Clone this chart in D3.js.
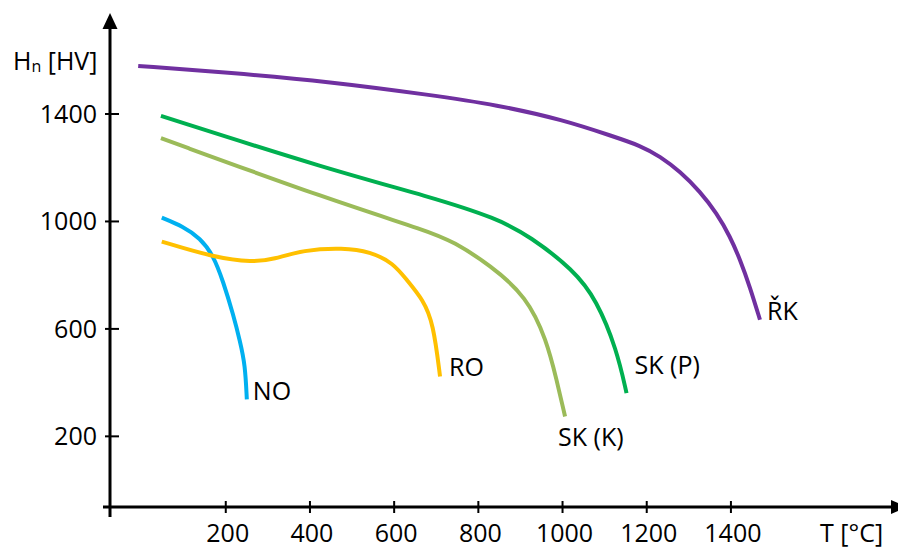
<!doctype html>
<html lang="cs">
<head>
  <meta charset="utf-8">
  <title>Hardness vs temperature</title>
  <style>
    body { margin: 0; background: #fff; font-family: 'Open Sans', sans-serif; }
    svg text { font-size: 25px; fill: #000; }
  </style>
</head>
<body>
  <svg width="898" height="549"></svg>
  <script src="https://d3js.org/d3.v7.min.js"></script>
  <script>
  // data: [T in °C, H in HV]
  var seriesNames = ["NO", "RO", "SK (K)", "SK (P)", "ŘK"];

  var dataNO = [[48, 1014], [99, 981], [139, 938], [170, 875], [194, 776], [218, 652],
                [234, 553], [246, 466], [250, 338]];
  var dataRO = [[48, 925], [170, 867], [265, 848], [313, 859], [384, 894], [479, 902], [543, 888],
                [598, 845], [630, 782], [669, 708], [693, 621], [709, 423]];
  var dataSKK = [[46, 1310], [448, 1080], [685, 962], [740, 925], [828, 838], [915, 720],
                 [962, 559], [986, 410], [1006, 274]];
  var dataSKP = [[46, 1393], [448, 1192], [685, 1092], [844, 1012], [923, 944], [1026, 820],
                 [1081, 708], [1129, 522], [1152, 361]];
  var dataRK = [[-8, 1579], [210, 1554], [448, 1520], [685, 1471], [844, 1434], [1002, 1378],
                [1121, 1316], [1184, 1283], [1232, 1242], [1279, 1186], [1327, 1111], [1366, 1031],
                [1398, 944], [1422, 857], [1445, 757], [1469, 634]];

  var xTicks = [200, 400, 600, 800, 1000, 1200, 1400];
  var yTicks = [200, 600, 1000, 1400];

  var colors = ["#00B0F0", "#FFC000", "#9BBB59", "#00B050", "#7030A0"];

  var svg = d3.select("svg");

  // scales (axis origin is not at zero)
  var x = d3.scaleLinear().domain([-75, 1785]).range([110, 893]);
  var y = d3.scaleLinear().domain([-63, 1776]).range([507, 13]);

  var series = [dataNO, dataRO, dataSKK, dataSKP, dataRK].map(function(d, i) {
    return { name: seriesNames[i], values: d, color: colors[i] };
  });

  // label offsets from the end of each curve
  var labelOffset = {
    "NO": [6, 1], "RO": [9, 0], "SK (K)": [-7, 30], "SK (P)": [8, -19], "ŘK": [7, 0]
  };

  var line = d3.line()
      .x(function(d) { return x(d[0]); })
      .y(function(d) { return y(d[1]); })
      .curve(d3.curveBasis);

  svg.append("g")
    .selectAll("path")
    .data(series)
    .enter().append("path")
      .attr("d", function(d) { return line(d.values); })
      .attr("fill", "none")
      .attr("stroke", function(d) { return d.color; })
      .attr("stroke-width", 4);

  svg.append("g")
    .selectAll("text")
    .data(series)
    .enter().append("text")
      .attr("x", function(d) { var p = d.values[d.values.length - 1]; return x(p[0]) + labelOffset[d.name][0]; })
      .attr("y", function(d) { var p = d.values[d.values.length - 1]; return y(p[1]) + labelOffset[d.name][1]; })
      .text(function(d) { return d.name; });

  // axes
  var x0 = x.range()[0], y0 = y.range()[0];

  svg.append("line")
      .attr("x1", x0 - 7).attr("x2", x.range()[1])
      .attr("y1", y0).attr("y2", y0)
      .attr("stroke", "#000").attr("stroke-width", 3);
  svg.append("path")
      .attr("d", "M" + (x.range()[1] - 2) + "," + (y0 - 7) + "L" + (x.range()[1] + 15) + "," + y0 + "L" + (x.range()[1] - 2) + "," + (y0 + 7) + "Z")
      .attr("fill", "#000");

  svg.append("line")
      .attr("x1", x0).attr("x2", x0)
      .attr("y1", y0 + 10).attr("y2", y.range()[1] + 14)
      .attr("stroke", "#000").attr("stroke-width", 3);
  svg.append("path")
      .attr("d", "M" + (x0 - 7.5) + "," + (y.range()[1] + 16) + "L" + x0 + "," + y.range()[1] + "L" + (x0 + 7.5) + "," + (y.range()[1] + 16) + "Z")
      .attr("fill", "#000");

  // x ticks
  var xt = svg.append("g").selectAll("g").data(xTicks).enter().append("g");
  xt.append("line")
      .attr("x1", function(d) { return x(d); }).attr("x2", function(d) { return x(d); })
      .attr("y1", y0 - 6).attr("y2", y0 + 6)
      .attr("stroke", "#000").attr("stroke-width", 2);
  xt.append("text")
      .attr("x", function(d) { return x(d) + 2; })
      .attr("y", y0 + 35)
      .attr("text-anchor", "middle")
      .text(function(d) { return d; });

  // y ticks
  var yt = svg.append("g").selectAll("g").data(yTicks).enter().append("g");
  yt.append("line")
      .attr("x1", x0 - 5).attr("x2", x0 + 9)
      .attr("y1", function(d) { return y(d); }).attr("y2", function(d) { return y(d); })
      .attr("stroke", "#000").attr("stroke-width", 2);
  yt.append("text")
      .attr("x", x0 - 13)
      .attr("y", function(d) { return y(d); })
      .attr("dy", "0.36em")
      .attr("text-anchor", "end")
      .text(function(d) { return d; });

  // axis titles
  var yTitle = svg.append("text").attr("x", 13).attr("y", 70);
  yTitle.append("tspan").text("H");
  yTitle.append("tspan").attr("font-size", "16px").attr("dy", 2).text("n");
  yTitle.append("tspan").attr("dy", -2).text(" [HV]");

  svg.append("text")
      .attr("x", 820)
      .attr("y", 542)
      .text("T [°C]");
  </script>
</body>
</html>
